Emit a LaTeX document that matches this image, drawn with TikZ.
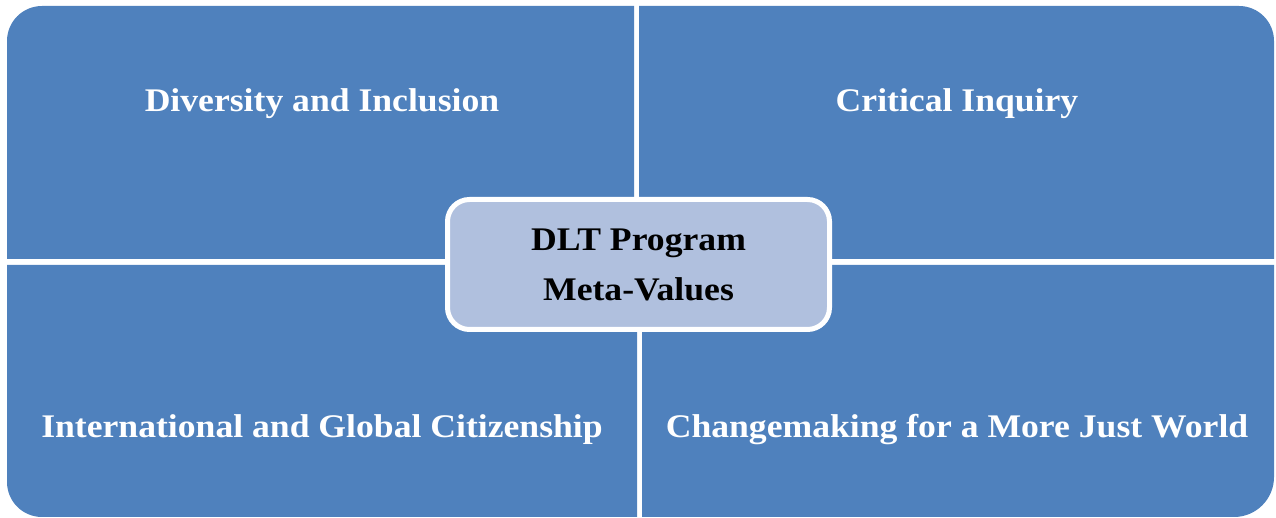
\documentclass[tikz,border=0pt]{standalone}
\usepackage{fontspec}
\setmainfont[FakeStretch=1.08]{Liberation Serif}
\definecolor{quadblue}{RGB}{79,129,189}
\definecolor{hubblue}{RGB}{176,192,222}
\begin{document}
\begin{tikzpicture}[x=1pt, y=1pt,
  quad/.style={fill=quadblue},
  quadtext/.style={text=white, anchor=base, font=\fontsize{33}{40}\selectfont\bfseries},
  hubbox/.style={draw=white, line width=5pt, fill=hubblue, rounded corners=22pt,
    minimum width=382pt, minimum height=130pt, align=center, text=black,
    font=\fontsize{33}{50}\selectfont\bfseries}]
\useasboundingbox (0,0) rectangle (1276,518);

% four quarters, only the outer corner rounded
\fill[quad] (634,259) -- (7,259) -- (7,477) arc[start angle=180, end angle=90, radius=35] -- (634,512) -- cycle;
\fill[quad] (639,259) -- (639,512) -- (1239,512) arc[start angle=90, end angle=0, radius=35] -- (1274,259) -- cycle;
\fill[quad] (637,253) -- (637,1) -- (42,1) arc[start angle=270, end angle=180, radius=35] -- (7,253) -- cycle;
\fill[quad] (642,253) -- (1274,253) -- (1274,41) arc[start angle=0, end angle=-90, radius=40] -- (642,1) -- cycle;

\node[quadtext] (diversity) at (322,406) {Diversity and Inclusion};
\node[quadtext] (inquiry) at (957,406) {Critical Inquiry};
\node[quadtext] (citizen) at (322,80) {International and Global Citizenship};
\node[quadtext] (change) at (957,80) {Changemaking for a More Just World};

\node[hubbox] (hub) at (638.5,253.5) {DLT Program\\Meta-Values};
\end{tikzpicture}
\end{document}
